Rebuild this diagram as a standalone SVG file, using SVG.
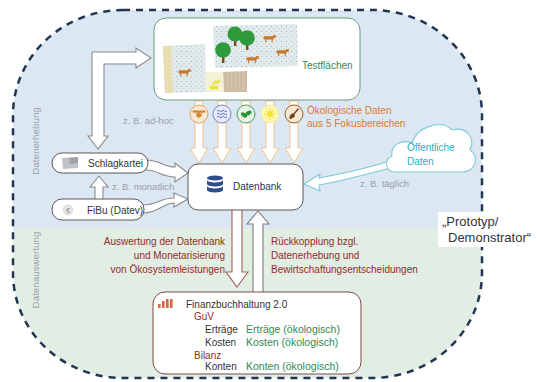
<svg xmlns="http://www.w3.org/2000/svg" xmlns:xlink="http://www.w3.org/1999/xlink" width="537" height="382" viewBox="0 0 537 382">
  <style>
    text { font-family: "Liberation Sans", "DejaVu Sans", sans-serif; }
    .t10 { font-size: 10px; }
    .hint { font-size: 9.5px; fill: #9aa0a6; }
    .zone { font-size: 9.8px; fill: #9aa3ab; text-anchor: middle; }
    .dark { fill: #333333; }
    .red { fill: #962a2a; }
    .green { fill: #2e8a52; }
    .eco-txt { font-size: 10.5px; }
    .orange { fill: #e07a2e; }
    .pill { fill: #ffffff; stroke: #5a5a5a; stroke-width: 1; }
    .eco { fill: #ffffff; stroke: #efc28c; stroke-width: 1; }
    .flow { fill: #ffffff; stroke: #8a8a8a; stroke-width: 1.1; }
  </style>
  <defs>
    <clipPath id="areaClip">
      <rect x="13" y="10" width="469" height="368" rx="110" ry="105"/>
    </clipPath>
    <pattern id="dots" width="5" height="5" patternUnits="userSpaceOnUse">
      <rect width="5" height="5" fill="#e2eaec"/>
      <circle cx="1.5" cy="1.5" r="0.6" fill="#8fb2c4"/>
      <circle cx="4" cy="3.8" r="0.5" fill="#a9c6a8"/>
    </pattern>
    <pattern id="soil" width="4" height="4" patternUnits="userSpaceOnUse">
      <rect width="4" height="4" fill="#d6c6ae"/>
      <circle cx="1" cy="1" r="0.6" fill="#9c7f60"/>
      <circle cx="3" cy="2.6" r="0.5" fill="#b39878"/>
      <circle cx="1.8" cy="3.5" r="0.4" fill="#8a6e52"/>
    </pattern>
    <pattern id="sand" width="4" height="4" patternUnits="userSpaceOnUse">
      <rect width="4" height="4" fill="#ebe0b4"/>
      <circle cx="1" cy="2" r="0.5" fill="#c7b578"/>
      <circle cx="3" cy="0.8" r="0.4" fill="#d4c48c"/>
    </pattern>
    <radialGradient id="sunGlow" cx="0.5" cy="0.5" r="0.5">
      <stop offset="0" stop-color="#fffbd0"/>
      <stop offset="1" stop-color="#fbf6a8"/>
    </radialGradient>
    <symbol id="cow" viewBox="0 0 12 8">
      <path d="M1 2 L9 2 L9.5 0.8 L11.8 1 L11.8 3.2 L10 3.4 L9.6 5 L9 5 L9 7.5 L8 7.5 L8 5 L3 5 L3 7.5 L2 7.5 L2 5 L1 4.6 L0.2 4 Z" fill="#c8782a"/>
    </symbol>
  </defs>

  <!-- Zones: data collection (blue) and data evaluation (green) -->
  <g id="zones">
    <g clip-path="url(#areaClip)">
      <rect x="0" y="0" width="537" height="228" fill="#dbe7f3"/>
      <rect x="0" y="228" width="537" height="160" fill="#e2ede4"/>
    </g>
    <rect x="13" y="10" width="469" height="368" rx="110" ry="105" fill="none" stroke="#213650" stroke-width="2.5" stroke-dasharray="7 6"/>
    <text class="zone" transform="translate(39,141) rotate(-90)">Datenerhebung</text>
    <text class="zone" transform="translate(39,270) rotate(-90)">Datenauswertung</text>
  </g>

  <!-- Prototype label sits on a white plate over the border -->
  <g id="prototyp-label">
    <rect x="438" y="212" width="99" height="35" fill="#ffffff"/>
    <text x="442" y="226" font-family="'Open Sans', sans-serif" font-size="13" fill="#333">„Prototyp/</text>
    <text x="448" y="242" font-family="'Open Sans', sans-serif" font-size="13" fill="#333">Demonstrator“</text>
  </g>

  <!-- Connectors -->
  <g id="connectors">
    <!-- ecological data streams -->
    <polygon class="eco" points="195,101 195,148 190,148 199,163 208,148 203,148 203,101"/>
    <polygon class="eco" points="218,101 218,148 213,148 222,163 231,148 226,148 226,101"/>
    <polygon class="eco" points="242,101 242,148 237,148 246,163 255,148 250,148 250,101"/>
    <polygon class="eco" points="266,101 266,148 261,148 270,163 279,148 274,148 274,101"/>
    <polygon class="eco" points="290,101 290,148 285,148 294,163 303,148 298,148 298,101"/>

    <!-- ad-hoc link between Schlagkartei and Testflächen -->
    <path class="flow" d="M98,149 L88,136 L92,136 L92,52 L136,52 L136,48 L151,58 L136,68 L136,64 L104,64 L104,136 L108,136 Z"/>

    <!-- Schlagkartei to Datenbank -->
    <path class="flow" d="M146,160 C160,160 163,167 175,167 L175,163 L188,173 L175,182 L175,177 C161,177 158,170 146,170 Z"/>
    <!-- FiBu to Datenbank -->
    <path class="flow" d="M143,205 C157,205 160,198 174,198 L174,193 L188,199 L174,207 L174,203 C163,203 159,213 143,213 Z"/>
    <!-- FiBu to Schlagkartei -->
    <path class="flow" d="M95,199 L95,187 L90,187 L99,176 L108,187 L103,187 L103,199"/>

    <!-- public data to Datenbank -->
    <path fill="#ffffff" stroke="#7ccbd6" stroke-width="1.1" d="M392,160 C370,168 340,174 319,178 L320,174 L304,184 L320,191 L319,185 C340,181 372,173 394,167 Z"/>

    <!-- Datenbank to Finanzbuchhaltung -->
    <path fill="#ffffff" stroke="#a0615a" stroke-width="1.1" d="M232,210 L232,272 L226,272 L237,287 L248,272 L242,272 L242,210"/>
    <!-- feedback from Finanzbuchhaltung -->
    <path fill="#ffffff" stroke="#7d7d7d" stroke-width="1.1" d="M253,292 L253,224 L247,224 L258,211 L269,224 L263,224 L263,292"/>

    <text class="hint" x="123" y="124">z. B. ad-hoc</text>
    <text class="hint" x="112" y="190">z. B. monatlich</text>
    <text class="hint" x="360" y="187">z. B. täglich</text>

    <text class="t10 red" text-anchor="end" x="225" y="245">Auswertung der Datenbank</text>
    <text class="t10 red" text-anchor="end" x="225" y="259">und Monetarisierung</text>
    <text class="t10 red" text-anchor="end" x="225" y="273">von Ökosystemleistungen</text>
    <text class="t10 red" x="271" y="245">Rückkopplung bzgl.</text>
    <text class="t10 red" x="271" y="259">Datenerhebung und</text>
    <text class="t10 red" x="271" y="273">Bewirtschaftungsentscheidungen</text>

    <text class="t10 orange" x="307" y="114">Ökologische Daten</text>
    <text class="t10 orange" x="307" y="127">aus 5 Fokusbereichen</text>
  </g>

  <!-- Focus area icons -->
  <g id="fokus-icons">
    <g transform="translate(199,114)">
      <circle r="9" fill="#fbe8d2" stroke="#e3a462" stroke-width="1"/>
      <ellipse cx="-4.5" cy="-2.5" rx="2" ry="1.2" fill="#d5862c"/>
      <ellipse cx="4.5" cy="-2.5" rx="2" ry="1.2" fill="#d5862c"/>
      <path d="M-3,-3.5 L3,-3.5 L2.6,2 Q0,5.5 -2.6,2 Z" fill="#d5862c"/>
      <circle cx="-1.3" cy="-1" r="0.6" fill="#fbe8d2"/>
      <circle cx="1.3" cy="-1" r="0.6" fill="#fbe8d2"/>
    </g>
    <g transform="translate(222,114)">
      <circle r="9" fill="#e8ebf8" stroke="#7785c6" stroke-width="1"/>
      <g fill="none" stroke="#5563b5" stroke-width="0.9">
        <path d="M-5,-3 q1.25,-1.4 2.5,0 t2.5,0 t2.5,0 t2.5,0"/>
        <path d="M-5,0 q1.25,-1.4 2.5,0 t2.5,0 t2.5,0 t2.5,0"/>
        <path d="M-5,3 q1.25,-1.4 2.5,0 t2.5,0 t2.5,0 t2.5,0"/>
      </g>
    </g>
    <g transform="translate(246,114)">
      <circle r="9" fill="#e6f3e6" stroke="#4aa05a" stroke-width="1"/>
      <ellipse cx="-2" cy="1" rx="3.4" ry="2" transform="rotate(35 -2 1)" fill="#2f8f3a"/>
      <ellipse cx="2.5" cy="-1" rx="3.4" ry="2" transform="rotate(-30 2.5 -1)" fill="#2f8f3a"/>
    </g>
    <g transform="translate(270,114)">
      <circle r="9" fill="url(#sunGlow)" stroke="#f3ec9a" stroke-width="1"/>
      <g stroke="#f2e23a" stroke-width="1">
        <line x1="0" y1="-6" x2="0" y2="6"/>
        <line x1="-6" y1="0" x2="6" y2="0"/>
        <line x1="-4.2" y1="-4.2" x2="4.2" y2="4.2"/>
        <line x1="-4.2" y1="4.2" x2="4.2" y2="-4.2"/>
      </g>
      <circle r="3" fill="#f4e635"/>
    </g>
    <g transform="translate(294,114)">
      <circle r="9" fill="#f7e7d3" stroke="#96622e" stroke-width="1"/>
      <line x1="4.5" y1="-5.5" x2="-0.5" y2="0.5" stroke="#6e4220" stroke-width="1.3"/>
      <path d="M-1.5,-0.8 Q1.5,1 0.8,2.2 Q-1.5,5.5 -4.6,4.4 Q-5,1.5 -1.5,-0.8 Z" fill="#6e4220"/>
    </g>
  </g>

  <!-- Node: Testflächen -->
  <g id="testflaechen">
    <rect x="154" y="18" width="206" height="82" rx="12" fill="#ffffff" stroke="#6a9e7c" stroke-width="1"/>
    <polygon points="213,26 297,24 298,66 215,68" fill="url(#dots)"/>
    <polygon points="163,46 205,44 206,92 165,93" fill="url(#dots)"/>
    <polygon points="163,46 171,46 173,93 165,93" fill="url(#sand)"/>
    <polygon points="205,72 223,72 224,92 206,92" fill="#f3f1d6"/>
    <path d="M213,85 l3,-4 l1.5,2 l2,-3" stroke="#e8de2a" stroke-width="1.6" fill="none"/>
    <rect x="210" y="86" width="8" height="3" fill="#eedf2c"/>
    <polygon points="223,72 247,71 247,92 224,92" fill="url(#soil)"/>
    <rect x="234" y="39" width="2.4" height="7" fill="#7a4a20"/>
    <rect x="246" y="43" width="2.4" height="7" fill="#7a4a20"/>
    <rect x="222" y="56" width="2.4" height="7" fill="#7a4a20"/>
    <circle cx="235" cy="34" r="7.5" fill="#2e9a3c"/>
    <circle cx="247" cy="38" r="7.8" fill="#2e9a3c"/>
    <circle cx="223" cy="50" r="7.8" fill="#2e9a3c"/>
    <use xlink:href="#cow" x="263" y="34" width="13" height="9"/>
    <use xlink:href="#cow" x="276" y="48" width="13" height="9"/>
    <use xlink:href="#cow" x="246" y="55" width="13" height="9"/>
    <use xlink:href="#cow" x="178" y="68" width="13" height="9"/>
    <text class="t10 green" x="302" y="69">Testflächen</text>
  </g>

  <!-- Node: Datenbank -->
  <g id="datenbank">
    <rect x="188" y="164" width="115" height="46" rx="10" fill="#ffffff" stroke="#5a5a5a" stroke-width="1"/>
    <g fill="#2d4d8e">
      <ellipse cx="215" cy="178" rx="8" ry="2.6"/>
      <path d="M207,180 a8,2.6 0 0 0 16,0 v4 a8,2.6 0 0 1 -16,0 Z"/>
      <path d="M207,186 a8,2.6 0 0 0 16,0 v4 a8,2.6 0 0 1 -16,0 Z"/>
    </g>
    <text class="t10" x="233" y="190" fill="#263654">Datenbank</text>
  </g>

  <!-- Node: Schlagkartei -->
  <g id="schlagkartei">
    <rect class="pill" x="52" y="153" width="96" height="20" rx="10"/>
    <polygon points="62,158 78,157 78,168 63,169" fill="#bfc2c4"/>
    <polygon points="69,158 78,157 78,163 70,164" fill="#9ea2a6"/>
    <text class="t10 dark" x="88" y="167">Schlagkartei</text>
  </g>

  <!-- Node: FiBu (Datev) -->
  <g id="fibu">
    <rect class="pill" x="52" y="199" width="92" height="21" rx="10"/>
    <circle cx="68" cy="210" r="5" fill="#e6e6e6" stroke="#cfcfcf" stroke-width="0.6"/>
    <text x="68" y="212.5" font-size="6.5" fill="#888" text-anchor="middle">€</text>
    <text class="t10 dark" x="87" y="214">FiBu (Datev)</text>
  </g>

  <!-- Node: Öffentliche Daten -->
  <g id="oeffentliche-daten">
    <path d="M396,172 C385,172 383,160 392,156 C390,145 402,139 412,143 C416,128 440,118 452,130 C466,126 476,138 470,150 C480,156 476,172 462,172 Z" fill="#ffffff" stroke="#7ccbd6" stroke-width="1.1"/>
    <text class="t10" x="407" y="151" fill="#2aaebf">Öffentliche</text>
    <text class="t10" x="407" y="165" fill="#2aaebf">Daten</text>
  </g>

  <!-- Node: Finanzbuchhaltung 2.0 -->
  <g id="finanzbuchhaltung">
    <rect x="153" y="292" width="208" height="82" rx="12" fill="#ffffff" stroke="#7a4d44" stroke-width="1"/>
    <g fill="#d9663c">
      <rect x="158" y="304" width="2.6" height="4"/>
      <rect x="162" y="301" width="2.6" height="7"/>
      <rect x="166" y="299" width="2.6" height="9"/>
      <rect x="170" y="299" width="2.6" height="9"/>
    </g>
    <text class="t10 dark" x="186" y="308">Finanzbuchhaltung 2.0</text>
    <text class="t10 red" x="194" y="320">GuV</text>
    <text class="t10 dark" x="205" y="333">Erträge</text>
    <text class="eco-txt green" x="246" y="333">Erträge (ökologisch)</text>
    <text class="t10 dark" x="205" y="346">Kosten</text>
    <text class="eco-txt green" x="246" y="346">Kosten (ökologisch)</text>
    <text class="t10 red" x="194" y="359">Bilanz</text>
    <text class="t10 dark" x="205" y="370">Konten</text>
    <text class="eco-txt green" x="246" y="370">Konten (ökologisch)</text>
  </g>
</svg>
